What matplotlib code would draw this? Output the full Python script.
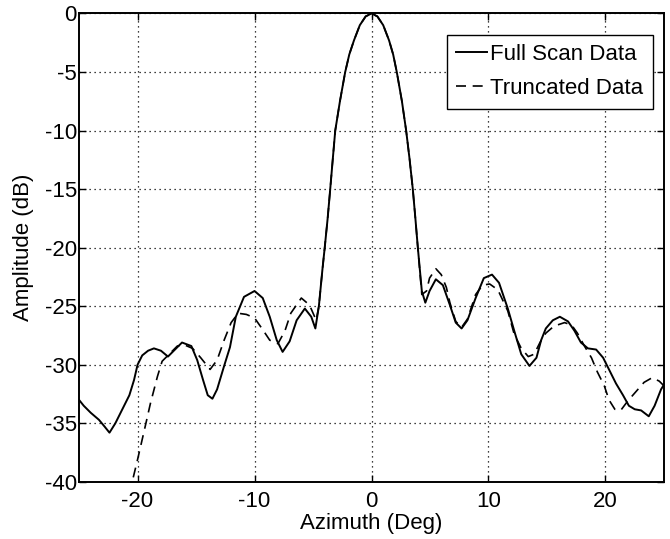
import numpy as np
import matplotlib
matplotlib.use('Agg')
import matplotlib.pyplot as plt

plt.rcParams['font.family'] = ['Liberation Sans', 'DejaVu Sans']

# --- data (azimuth in deg, amplitude in dB) ---
# main lobe, shared by both curves
lobe_az = [-4.2, -4.0, -3.75, -3.53, -3.3, -3.1, -2.7, -2.25, -1.9, -1.5, -1.0, -0.5, 0.0,
           0.5, 1.0, 1.5, 1.85, 2.16, 2.6, 2.96, 3.25, 3.53, 3.75, 3.96]
lobe_db = [-21.9, -20.0, -17.5, -15.0, -12.3, -10.0, -7.5, -5.0, -3.5, -2.3, -1.0, -0.25, 0.0,
           -0.25, -1.0, -2.3, -3.5, -5.0, -7.5, -10.0, -12.4, -15.0, -17.5, -20.0]

full_left_az = [-25.0, -24.6, -24.0, -23.3, -22.8, -22.4, -21.9, -21.3, -20.7, -20.3,
                -20.0, -19.6, -19.1, -18.6, -18.0, -17.4, -16.7, -16.2, -15.4, -14.9,
                -14.4, -14.0, -13.6, -13.2, -12.6, -12.1, -11.6, -10.9, -10.0, -9.3,
                -8.7, -8.1, -7.6, -7.0, -6.4, -5.7, -5.15, -4.8, -4.5]
full_left_db = [-33.0, -33.5, -34.1, -34.7, -35.3, -35.8, -35.0, -33.8, -32.6, -31.3,
                -30.0, -29.2, -28.8, -28.6, -28.8, -29.3, -28.6, -28.1, -28.4, -29.6,
                -31.3, -32.6, -32.9, -32.1, -30.1, -28.5, -25.9, -24.2, -23.7, -24.3,
                -25.9, -27.9, -28.9, -28.0, -26.2, -25.2, -25.9, -26.9, -25.0]
full_right_az = [4.3, 4.6, 4.96, 5.5, 6.1, 6.7, 7.2, 7.7, 8.2, 8.9,
                 9.6, 10.3, 10.9, 11.65, 12.2, 12.8, 13.5, 14.1, 14.5, 14.9,
                 15.5, 16.1, 16.8, 17.35, 17.9, 18.5, 19.2, 19.8, 20.3, 20.9,
                 21.5, 22.0, 22.5, 23.05, 23.7, 24.2, 24.75, 25.0]
full_right_db = [-23.7, -24.7, -23.7, -22.7, -23.2, -24.9, -26.4, -26.9, -26.2, -24.3,
                 -22.6, -22.3, -23.0, -25.2, -27.1, -29.1, -30.1, -29.4, -27.9, -26.9,
                 -26.2, -25.9, -26.3, -27.1, -28.1, -28.6, -28.7, -29.4, -30.4, -31.6,
                 -32.6, -33.5, -33.8, -33.9, -34.4, -33.5, -32.1, -31.7]

trunc_left_az = [-20.7, -20.0, -19.4, -18.9, -18.3, -17.9, -17.4, -16.6, -16.0, -15.3,
                 -14.6, -13.8, -13.2, -12.6, -12.0, -11.4, -10.7, -10.0, -9.3, -8.7,
                 -8.0, -7.4, -6.9, -6.0, -5.3, -4.73, -4.5]
trunc_left_db = [-41.0, -38.1, -35.5, -33.3, -31.0, -29.7, -29.2, -28.4, -28.3, -28.6,
                 -29.4, -30.4, -29.6, -27.9, -26.4, -25.6, -25.7, -26.0, -27.0, -27.9,
                 -28.2, -27.1, -25.6, -24.3, -24.9, -26.2, -25.0]
trunc_right_az = [4.3, 4.7, 4.96, 5.5, 5.96, 6.4, 6.7, 7.2, 7.7, 8.2,
                  8.9, 9.5, 10.1, 10.8, 11.65, 12.2, 12.8, 13.4, 13.9, 14.4,
                  14.9, 15.6, 16.5, 17.1, 17.6, 18.2, 18.8, 19.3, 19.9, 20.3,
                  20.8, 21.3, 21.9, 22.6, 23.3, 24.0, 24.6, 25.0]
trunc_right_db = [-24.0, -23.7, -22.6, -21.8, -22.3, -23.4, -24.7, -26.3, -26.8, -26.1,
                  -24.0, -23.2, -23.1, -23.6, -25.4, -27.4, -28.6, -29.3, -29.1, -28.1,
                  -27.3, -26.7, -26.4, -26.6, -27.3, -28.4, -29.4, -30.6, -31.8, -33.0,
                  -33.8, -33.9, -33.1, -32.3, -31.5, -31.1, -31.4, -31.8]

full_az = np.array(full_left_az + lobe_az + full_right_az)
full_db = np.array(full_left_db + lobe_db + full_right_db)
trunc_az = np.array(trunc_left_az + lobe_az + trunc_right_az)
trunc_db = np.array(trunc_left_db + lobe_db + trunc_right_db)

x_ticks = [-20, -10, 0, 10, 20]
y_ticks = [0, -5, -10, -15, -20, -25, -30, -35, -40]

FS = 16

# --- figure ---
fig = plt.figure(figsize=(6.7, 5.39), dpi=100)
ax = fig.add_axes([0.118, 0.106, 0.873, 0.869])

ax.plot(full_az, full_db, color='black', lw=1.4, label='Full Scan Data')
ax.plot(trunc_az, trunc_db, color='black', lw=1.2, dashes=(6, 4), label='Truncated Data')

ax.set_xlim(-25, 25)
ax.set_ylim(-40, 0)
ax.set_xticks(x_ticks)
ax.set_yticks(y_ticks)
ax.set_xticklabels([str(t) for t in x_ticks])
ax.set_yticklabels([str(t) for t in y_ticks])

ax.grid(True, color='black', lw=0.9, linestyle=(0, (1, 3)))
ax.tick_params(axis='both', direction='in', top=True, right=True,
               length=5, width=1, labelsize=FS, colors='black')
ax.tick_params(axis='y', pad=1.5)
ax.tick_params(axis='x', pad=6.5)
for sp in ax.spines.values():
    sp.set_linewidth(1.4)

ax.set_xlabel('Azimuth (Deg)', fontsize=FS, labelpad=1)
ax.set_ylabel('Amplitude (dB)', fontsize=FS, labelpad=8)

leg = ax.legend(loc='upper right', bbox_to_anchor=(0.981, 0.955), borderaxespad=0,
                fontsize=FS, frameon=True, fancybox=False, framealpha=1,
                edgecolor='black', handlelength=1.4, handletextpad=0.15,
                labelspacing=0.6, borderpad=0.42)
leg.get_frame().set_linewidth(1.0)

fig.savefig('out.png', dpi=100)
